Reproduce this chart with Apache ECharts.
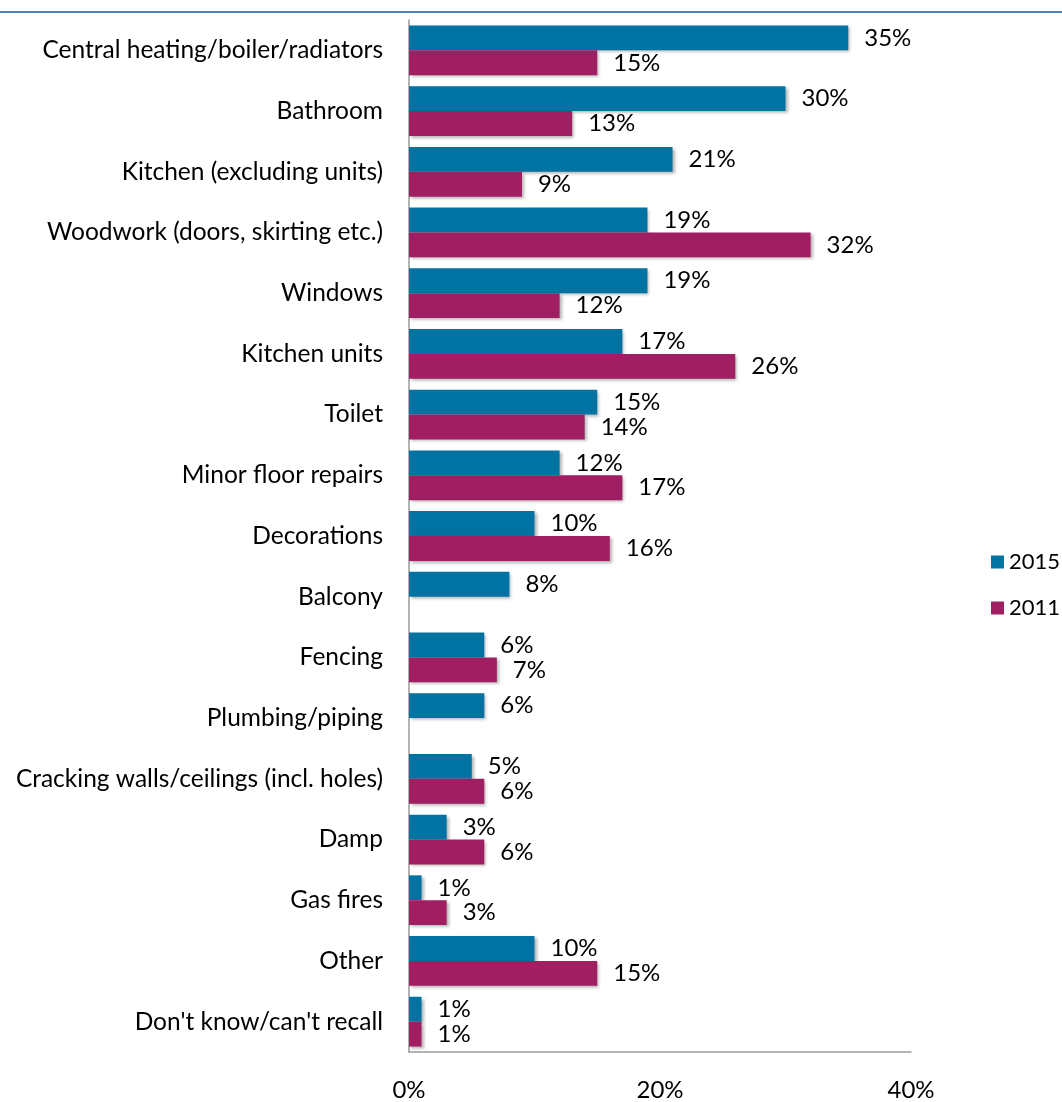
<!DOCTYPE html>
<html>
<head>
<meta charset="utf-8">
<script src="https://cdn.jsdelivr.net/npm/echarts@6/dist/echarts.min.js"></script>
<style>
  html, body { margin: 0; padding: 0; background: #fff; }
  #chart { width: 1062px; height: 1102px; }
</style>
</head>
<body>
<div id="chart"></div>
<script>
// Repair areas, share of respondents (%)
const categories = [
  'Central heating/boiler/radiators',
  'Bathroom',
  'Kitchen (excluding units)',
  'Woodwork (doors, skirting etc.)',
  'Windows',
  'Kitchen units',
  'Toilet',
  'Minor floor repairs',
  'Decorations',
  'Balcony',
  'Fencing',
  'Plumbing/piping',
  'Cracking walls/ceilings (incl. holes)',
  'Damp',
  'Gas fires',
  'Other',
  "Don't know/can't recall"
];
const values2015 = [35, 30, 21, 19, 19, 17, 15, 12, 10, 8, 6, 6, 5, 3, 1, 10, 1];
const values2011 = [15, 13, 9, 32, 12, 26, 14, 17, 16, null, 7, null, 6, 6, 3, 15, 1];
const xTicks = [0, 20, 40];

const FONT = 'Lato, "Open Sans", sans-serif';
const chart = echarts.init(document.getElementById('chart'));

function barSeries(name, data, color) {
  return {
    name: name,
    type: 'bar',
    data: data,
    barGap: '0%',
    barCategoryGap: '18%',
    itemStyle: {
      color: color,
      shadowColor: 'rgba(0,0,0,0.3)',
      shadowBlur: 3,
      shadowOffsetX: 2,
      shadowOffsetY: 2
    },
    label: {
      show: true,
      position: 'right',
      distance: 16,
      color: '#000',
      fontFamily: FONT,
      fontSize: 24,
      formatter: p => (p.value == null ? '' : p.value + '%')
    },
    emphasis: { disabled: true },
    animation: false
  };
}

chart.setOption({
  backgroundColor: '#fff',
  animation: false,
  graphic: [{
    type: 'line',
    shape: { x1: 0, y1: 12, x2: 1062, y2: 12 },
    style: { stroke: '#4F81BD', lineWidth: 2 }
  }],
  legend: {
    orient: 'vertical',
    left: 986,
    top: 546,
    itemWidth: 13,
    itemHeight: 13,
    itemGap: 24,
    icon: 'rect',
    textStyle: { fontFamily: FONT, fontSize: 22, color: '#000' },
    data: ['2015', '2011']
  },
  grid: { left: 409, right: 151, top: 20, bottom: 50, containLabel: false },
  xAxis: {
    type: 'value',
    min: xTicks[0],
    max: xTicks[xTicks.length - 1],
    interval: xTicks[1] - xTicks[0],
    axisLine: { show: true, lineStyle: { color: '#9a9a9a', width: 1.5 } },
    axisTick: { show: false },
    splitLine: { show: false },
    axisLabel: {
      margin: 26,
      fontFamily: FONT,
      fontSize: 24,
      color: '#000',
      formatter: v => v + '%'
    }
  },
  yAxis: {
    type: 'category',
    data: categories,
    inverse: true,
    axisLine: { show: true, lineStyle: { color: '#9a9a9a', width: 1.5 } },
    axisTick: { show: false },
    axisLabel: {
      margin: 26,
      fontFamily: FONT,
      fontSize: 24.5,
      color: '#000'
    }
  },
  series: [
    barSeries('2015', values2015, '#0073A2'),
    barSeries('2011', values2011, '#A01F62')
  ]
});
</script>
</body>
</html>
